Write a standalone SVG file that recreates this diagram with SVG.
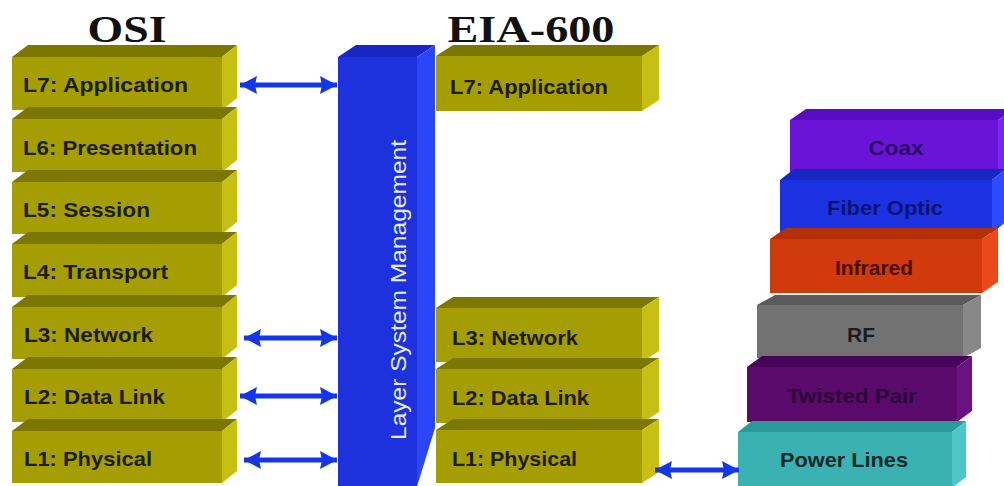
<svg xmlns="http://www.w3.org/2000/svg" width="1004" height="486" viewBox="0 0 1004 486">
<defs>
<style>
.olF{fill:#a59e02}.olT{fill:#7c7700}.olS{fill:#c6c012}
.lbl{font-family:"Liberation Sans",Arial,sans-serif;font-weight:bold;font-size:21px;fill:#1e1c00}
.mlbl{font-family:"Liberation Sans",Arial,sans-serif;font-weight:bold;font-size:20px;text-anchor:middle}
.ttl{font-family:"Liberation Serif","Times New Roman",serif;font-weight:bold;font-size:38px;fill:#111;text-anchor:middle}
.arr{stroke:#1236e8;stroke-width:5;fill:none;marker-start:url(#ah);marker-end:url(#ah)}
</style>
<marker id="ah" markerUnits="userSpaceOnUse" markerWidth="18" markerHeight="20" viewBox="0 0 18 20" refX="17" refY="10" orient="auto-start-reverse">
<path d="M0,1 L17,10 L0,19 L2,10 Z" fill="#1236e8"/>
</marker>
</defs>
<rect width="1004" height="486" fill="#ffffff"/>

<text class="ttl" x="127" y="42" textLength="79" lengthAdjust="spacingAndGlyphs">OSI</text>
<text class="ttl" x="531" y="42" textLength="167" lengthAdjust="spacingAndGlyphs">EIA-600</text>

<g id="lsm">
<polygon points="338,57 417,57 435,45 356,45" fill="#1826c4"/>
<polygon points="417,57 435,45 435,428 419,480 417,486" fill="#2a46f6"/>
<rect x="338" y="57" width="79" height="429" fill="#1d31dc"/>
<text x="0" y="0" transform="translate(406,440) rotate(-90)" font-family="'Liberation Sans',Arial,sans-serif" font-size="22" fill="#e8ecff" textLength="300" lengthAdjust="spacingAndGlyphs">Layer System Management</text>
</g>

<g id="osi-l7"><polygon class="olT" points="12,57 222,57 237,45 28,45"/><polygon class="olS" points="222,57 237,45 237,98 222,110"/><rect class="olF" x="12" y="57" width="210" height="53"/><text class="lbl" x="23" y="92" textLength="165" lengthAdjust="spacingAndGlyphs">L7: Application</text></g>
<g id="osi-l6"><polygon class="olT" points="12,119 222,119 237,107 28,107"/><polygon class="olS" points="222,119 237,107 237,160 222,172"/><rect class="olF" x="12" y="119" width="210" height="53"/><text class="lbl" x="23" y="155" textLength="174" lengthAdjust="spacingAndGlyphs">L6: Presentation</text></g>
<g id="osi-l5"><polygon class="olT" points="12,182 222,182 237,170 28,170"/><polygon class="olS" points="222,182 237,170 237,222 222,234"/><rect class="olF" x="12" y="182" width="210" height="52"/><text class="lbl" x="23" y="217" textLength="127" lengthAdjust="spacingAndGlyphs">L5: Session</text></g>
<g id="osi-l4"><polygon class="olT" points="12,244 222,244 237,232 28,232"/><polygon class="olS" points="222,244 237,232 237,285 222,297"/><rect class="olF" x="12" y="244" width="210" height="53"/><text class="lbl" x="23" y="279" textLength="145" lengthAdjust="spacingAndGlyphs">L4: Transport</text></g>
<g id="osi-l3"><polygon class="olT" points="12,307 222,307 237,295 28,295"/><polygon class="olS" points="222,307 237,295 237,347 222,359"/><rect class="olF" x="12" y="307" width="210" height="52"/><text class="lbl" x="24" y="342" textLength="129" lengthAdjust="spacingAndGlyphs">L3: Network</text></g>
<g id="osi-l2"><polygon class="olT" points="12,369 222,369 237,357 28,357"/><polygon class="olS" points="222,369 237,357 237,410 222,422"/><rect class="olF" x="12" y="369" width="210" height="53"/><text class="lbl" x="24" y="404" textLength="141" lengthAdjust="spacingAndGlyphs">L2: Data Link</text></g>
<g id="osi-l1"><polygon class="olT" points="12,431 222,431 237,419 28,419"/><polygon class="olS" points="222,431 237,419 237,471 222,483"/><rect class="olF" x="12" y="431" width="210" height="52"/><text class="lbl" x="24" y="466" textLength="128" lengthAdjust="spacingAndGlyphs">L1: Physical</text></g>

<g id="eia-l7"><polygon class="olT" points="436,56 642,56 659,45 453,45"/><polygon class="olS" points="642,56 659,45 659,100 642,111"/><rect class="olF" x="436" y="56" width="206" height="55"/><text class="lbl" x="450" y="94" textLength="158" lengthAdjust="spacingAndGlyphs">L7: Application</text></g>
<g id="eia-l3"><polygon class="olT" points="436,308 642,308 659,297 453,297"/><polygon class="olS" points="642,308 659,297 659,351 642,362"/><rect class="olF" x="436" y="308" width="206" height="54"/><text class="lbl" x="452" y="345" textLength="126" lengthAdjust="spacingAndGlyphs">L3: Network</text></g>
<g id="eia-l2"><polygon class="olT" points="436,369 642,369 659,358 453,358"/><polygon class="olS" points="642,369 659,358 659,412 642,423"/><rect class="olF" x="436" y="369" width="206" height="54"/><text class="lbl" x="452" y="405" textLength="137" lengthAdjust="spacingAndGlyphs">L2: Data Link</text></g>
<g id="eia-l1"><polygon class="olT" points="436,430 642,430 659,419 453,419"/><polygon class="olS" points="642,430 659,419 659,472 642,483"/><rect class="olF" x="436" y="430" width="206" height="53"/><text class="lbl" x="452" y="466" textLength="125" lengthAdjust="spacingAndGlyphs">L1: Physical</text></g>

<g id="coax"><polygon points="790,120 998,120 1014,109 806,109" fill="#5a0cc2"/><polygon points="998,120 1014,109 1014,162 998,173" fill="#7a24f2"/><rect x="790" y="120" width="208" height="53" fill="#6a14d8"/><text class="mlbl" x="896" y="155" fill="#2a0866" textLength="55" lengthAdjust="spacingAndGlyphs">Coax</text></g>
<g id="fiber"><polygon points="780,180 992,180 1006,169 794,169" fill="#1528c4"/><polygon points="992,180 1006,169 1006,222 992,233" fill="#2c4aff"/><rect x="780" y="180" width="212" height="53" fill="#1c32e2"/><text class="mlbl" x="885" y="215" fill="#0c1470" textLength="116" lengthAdjust="spacingAndGlyphs">Fiber Optic</text></g>
<g id="infrared"><polygon points="770,239 982,239 998,228 786,228" fill="#b42e08"/><polygon points="982,239 998,228 998,282 982,293" fill="#ea4a1a"/><rect x="770" y="239" width="212" height="54" fill="#d03a0c"/><text class="mlbl" x="874" y="275" fill="#4a1000" textLength="78" lengthAdjust="spacingAndGlyphs">Infrared</text></g>
<g id="rf"><polygon points="757,305 963,305 981,295 775,295" fill="#5a5a5a"/><polygon points="963,305 981,295 981,348 963,358" fill="#888888"/><rect x="757" y="305" width="206" height="53" fill="#727272"/><text class="mlbl" x="861" y="342" fill="#1c1c1c" textLength="28" lengthAdjust="spacingAndGlyphs">RF</text></g>
<g id="twisted"><polygon points="747,367 957,367 972,356 762,356" fill="#46055a"/><polygon points="957,367 972,356 972,411 957,422" fill="#6a1282"/><rect x="747" y="367" width="210" height="55" fill="#5a0a6a"/><text class="mlbl" x="852" y="403" fill="#2c0636" textLength="130" lengthAdjust="spacingAndGlyphs">Twisted Pair</text></g>
<g id="power"><polygon points="738,432 952,432 966,421 752,421" fill="#2a9a9a"/><polygon points="952,432 966,421 966,477 952,488" fill="#4cc6c6"/><rect x="738" y="432" width="214" height="56" fill="#3ab2b2"/><text class="mlbl" x="844" y="467" fill="#0e2828" textLength="128" lengthAdjust="spacingAndGlyphs">Power Lines</text></g>

<g id="connectors">
<line class="arr" x1="240" y1="85" x2="337" y2="85"/>
<line class="arr" x1="244" y1="338" x2="337" y2="338"/>
<line class="arr" x1="240" y1="396" x2="337" y2="396"/>
<line class="arr" x1="244" y1="460" x2="337" y2="460"/>
<line class="arr" x1="655" y1="470" x2="739" y2="470"/>
</g>
</svg>
